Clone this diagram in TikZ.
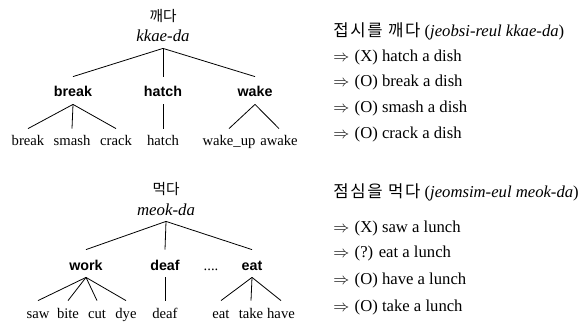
\documentclass[tikz,border=0pt]{standalone}
\usepackage{fontspec}
\setmainfont{Liberation Serif}
\newfontfamily\headfont{Liberation Sans}
\newfontfamily\kr{Noto Sans CJK KR}
\newfontfamily\krwide{Noto Sans CJK KR}[LetterSpace=10]
\usepackage{tikz}

\begin{document}
\begin{tikzpicture}[x=0.75pt,y=0.75pt,yscale=-1,xscale=1,
  root/.style={anchor=base,inner xsep=0pt,inner ysep=4.5pt,text depth=0pt,font=\fontsize{12.6}{14}\selectfont\itshape},
  kor/.style={anchor=base,inner sep=0pt,font=\fontsize{11}{12}\selectfont\kr},
  sense/.style={anchor=base,inner xsep=0pt,inner ysep=4.5pt,text height=10.5pt,text depth=0.75pt,font=\fontsize{10.7}{12}\selectfont\headfont\bfseries},
  leaf/.style={anchor=base,inner xsep=0pt,inner ysep=5.25pt,text height=7.5pt,text depth=0pt,font=\fontsize{11}{13}\selectfont},
  gloss/.style={anchor=base west,inner sep=0pt,font=\fontsize{12.5}{15}\selectfont},
  every path/.style={line width=0.6pt}]
\useasboundingbox (0,0) rectangle (585,324);

% kkae-da tree
\node[kor] (kkaeK) at (163,22) {깨다};
\node[root] (kkae) at (163,42) {kkae-da};
\node[sense] (break) at (73,97) {break};
\node[sense] (hatch) at (163,97) {hatch};
\node[sense] (wake) at (255,97) {wake};
\node[leaf] (lbreak) at (28,146) {break};
\node[leaf] (lsmash) at (72,146) {smash};
\node[leaf] (lcrack) at (116,146) {crack};
\node[leaf] (lhatch) at (163,146) {hatch};
\node[leaf] (lwakeup) at (229,146) {wake\_up};
\node[leaf] (lawake) at (279,146) {awake};
\foreach \c in {break,hatch,wake} \draw (kkae.south) -- (\c.north);
\foreach \c in {lbreak,lsmash,lcrack} \draw (break.south) -- (\c.north);
\draw (hatch.south) -- (lhatch.north);
\foreach \c in {lwakeup,lawake} \draw (wake.south) -- (\c.north);

% meok-da tree
\node[kor] (meokK) at (166,195) {먹다};
\node[root] (meok) at (166,215) {meok-da};
\node[sense] (work) at (86,270) {work};
\node[sense] (deaf) at (165,270) {deaf};
\node[leaf] (dots) at (211,270) {....};
\node[sense] (eat) at (252,270) {eat};
\node[leaf] (lsaw) at (38,318) {saw};
\node[leaf] (lbite) at (68,318) {bite};
\node[leaf] (lcut) at (97,318) {cut};
\node[leaf] (ldye) at (126,318) {dye};
\node[leaf] (ldeaf) at (165,318) {deaf};
\node[leaf] (leat) at (221,318) {eat};
\node[leaf] (ltake) at (251,318) {take};
\node[leaf] (lhave) at (281,318) {have};
\foreach \c in {work,deaf,eat} \draw (meok.south) -- (\c.north);
\foreach \c in {lsaw,lbite,lcut,ldye} \draw (work.south) -- (\c.north);
\draw (deaf.south) -- (ldeaf.north);
\foreach \c in {leat,ltake,lhave} \draw (eat.south) -- (\c.north);

% glosses
\node[gloss] (qkkae) at (333,37) {{\krwide 접시를 깨다} (\textit{jeobsi-reul kkae-da})};
\node[gloss] (akkae1) at (333,62) {$\Rightarrow$\hspace{4pt}(X) hatch a dish};
\node[gloss] (akkae2) at (333,87) {$\Rightarrow$\hspace{4pt}(O) break a dish};
\node[gloss] (akkae3) at (333,113) {$\Rightarrow$\hspace{4pt}(O) smash a dish};
\node[gloss] (akkae4) at (333,139) {$\Rightarrow$\hspace{4pt}(O) crack a dish};
\node[gloss] (qmeok) at (333,197) {{\krwide 점심을 먹다} (\textit{jeomsim-eul meok-da})};
\node[gloss] (ameok1) at (333,232) {$\Rightarrow$\hspace{4pt}(X) saw a lunch};
\node[gloss] (ameok2) at (333,257) {$\Rightarrow$\hspace{4pt}(?) eat a lunch};
\node[gloss] (ameok3) at (333,284) {$\Rightarrow$\hspace{4pt}(O) have a lunch};
\node[gloss] (ameok4) at (333,311) {$\Rightarrow$\hspace{4pt}(O) take a lunch};
\end{tikzpicture}
\end{document}
